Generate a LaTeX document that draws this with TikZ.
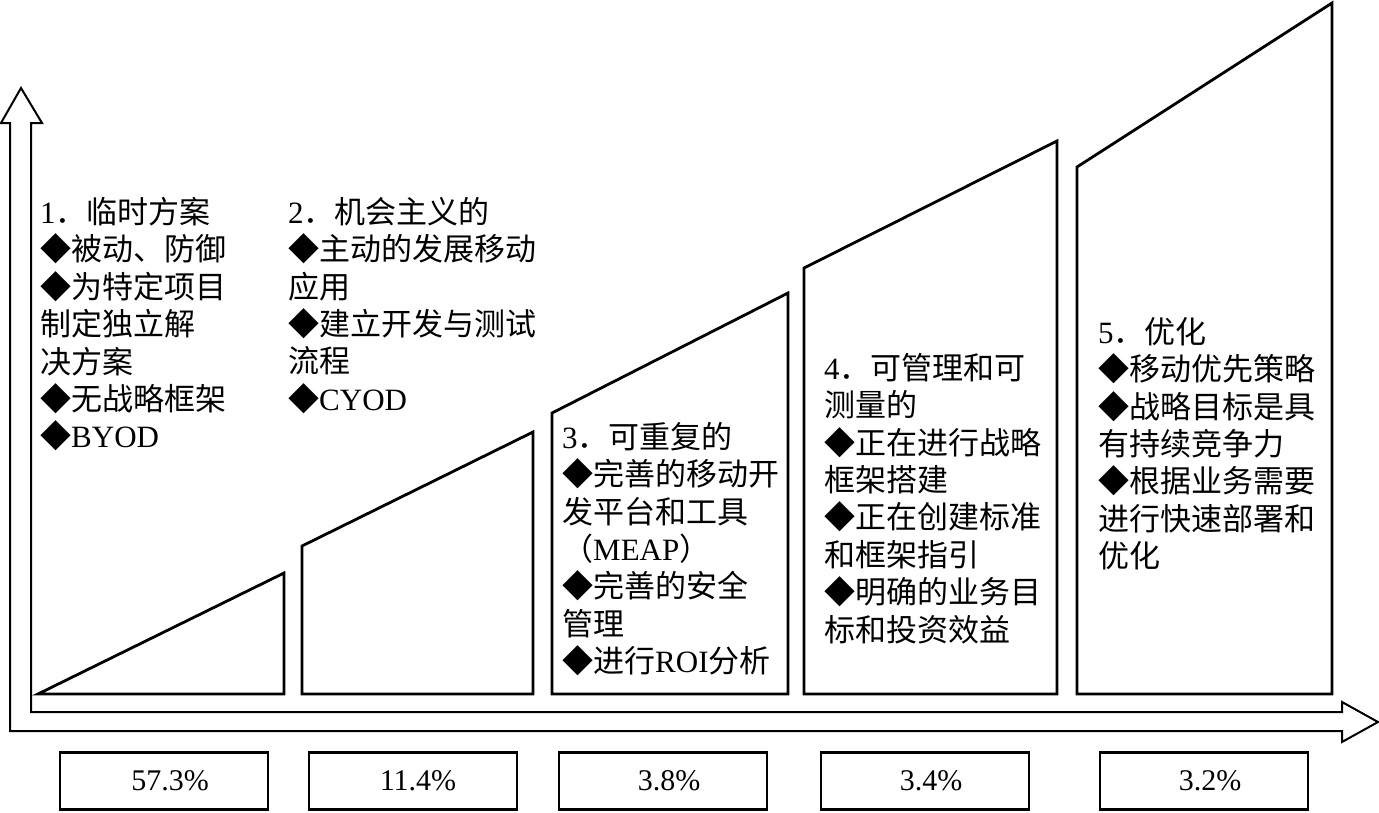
\documentclass[tikz,border=0pt]{standalone}
\usepackage{fontspec}
\setmainfont{Liberation Serif}
\newfontfamily\cjk{Noto Sans CJK SC}
\newcommand\lat[1]{{\rmfamily #1}}
\begin{document}
\begin{tikzpicture}[x=1pt,y=-1pt,
  stage/.style={draw, line width=2.8pt, line join=miter},
  axis/.style={draw, line width=2pt, line join=miter},
  txt/.style={anchor=north west, align=left, inner sep=0pt, font=\fontsize{31}{37.4}\selectfont\cjk},
  pct/.style={draw, line width=2.8pt, minimum width=208pt, minimum height=57pt, inner sep=0pt, font=\fontsize{30}{36}\selectfont}]
\useasboundingbox (0,0) rectangle (1379,812);
% axes (L-shaped hollow arrow)
\draw[axis] (1,123) -- (21,88) -- (42,123) -- (31,123) -- (31,712) -- (1342,712)
  -- (1342,702) -- (1378,722) -- (1342,742) -- (1342,731) -- (10,731) -- (10,123) -- cycle;
% stages
\draw[stage] (38,694) -- (284,694) -- (284,573) -- cycle;
\draw[stage] (302,694) -- (533,694) -- (533,432) -- (302,546) -- cycle;
\draw[stage] (552,694) -- (788,694) -- (788,293) -- (552,413) -- cycle;
\draw[stage] (804,694) -- (1057,694) -- (1057,141) -- (804,268) -- cycle;
\draw[stage] (1077,694) -- (1332,694) -- (1332,3) -- (1077,167) -- cycle;
% texts
\node[txt] (t1) at (40,197) {\lat{1}．临时方案\\◆被动、防御\\◆为特定项目\\制定独立解\\决方案\\◆无战略框架\\◆\lat{BYOD}};
\node[txt] (t2) at (288,197) {\lat{2}．机会主义的\\◆主动的发展移动\\应用\\◆建立开发与测试\\流程\\◆\lat{CYOD}};
\node[txt] (t3) at (562,422) {\lat{3}．可重复的\\◆完善的移动开\\发平台和工具\\（\lat{MEAP}）\\◆完善的安全\\管理\\◆进行\lat{ROI}分析};
\node[txt] (t4) at (824,353) {\lat{4}．可管理和可\\测量的\\◆正在进行战略\\框架搭建\\◆正在创建标准\\和框架指引\\◆明确的业务目\\标和投资效益};
\node[txt] (t5) at (1098,317) {\lat{5}．优化\\◆移动优先策略\\◆战略目标是具\\有持续竞争力\\◆根据业务需要\\进行快速部署和\\优化};
% percentages
\node[pct] (p1) at (164,781) {\hspace*{12pt}57.3\%};
\node[pct] (p2) at (413,781) {\hspace*{10pt}11.4\%};
\node[pct] (p3) at (663,781) {\hspace*{12pt}3.8\%};
\node[pct] (p4) at (925,781) {\hspace*{12pt}3.4\%};
\node[pct] (p5) at (1204,781) {\hspace*{12pt}3.2\%};
\end{tikzpicture}
\end{document}
